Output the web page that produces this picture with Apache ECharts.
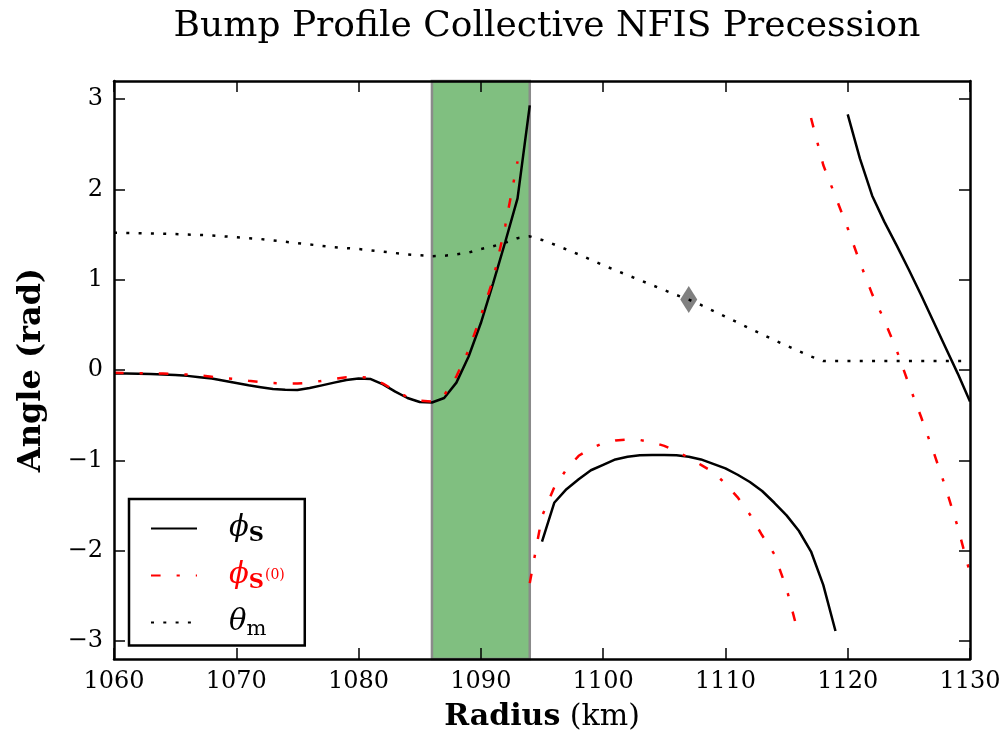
<!DOCTYPE html>
<html>
<head>
<meta charset="utf-8">
<script src="https://cdn.jsdelivr.net/npm/echarts@6/dist/echarts.min.js"></script>
<style>
  html, body { margin: 0; padding: 0; background: #ffffff; }
  #chart { width: 1008px; height: 748px; }
</style>
</head>
<body>
<div id="chart"></div>
<script>
// Radius (km) and angle (rad) samples, one pair of arrays per continuous branch.
const phiS_r1 = [1060,1061,1062,1063,1064,1065,1066,1067,1068,1069,1070,1071,1072,1073,1074,1075,1076,1077,1078,1079,1080,1081,1082,1083,1084,1085,1086,1087,1088,1089,1090,1091,1092,1093,1094];
const phiS_a1 = [-0.04,-0.04,-0.042,-0.045,-0.05,-0.055,-0.065,-0.08,-0.095,-0.12,-0.145,-0.17,-0.19,-0.21,-0.22,-0.222,-0.20,-0.17,-0.14,-0.11,-0.095,-0.10,-0.16,-0.24,-0.31,-0.355,-0.36,-0.31,-0.14,0.15,0.52,0.96,1.42,1.90,2.93];
const phiS_r2 = [1095,1096,1097,1098,1099,1100,1101,1102,1103,1104,1105,1106,1107,1108,1109,1110,1111,1112,1113,1114,1115,1116,1117,1118,1119];
const phiS_a2 = [-1.90,-1.47,-1.32,-1.21,-1.11,-1.05,-0.99,-0.96,-0.945,-0.94,-0.94,-0.945,-0.96,-0.99,-1.04,-1.09,-1.16,-1.24,-1.34,-1.47,-1.61,-1.78,-2.01,-2.38,-2.89];
const phiS_r3 = [1120,1121,1122,1123,1124,1125,1126,1127,1128,1129,1130];
const phiS_a3 = [2.83,2.34,1.93,1.64,1.38,1.11,0.83,0.54,0.25,-0.04,-0.35];

const phiS0_r1 = [1060,1061,1062,1063,1064,1065,1066,1067,1068,1069,1070,1071,1072,1073,1074,1075,1076,1077,1078,1079,1080,1081,1082,1083,1084,1085,1086,1087,1088,1089,1090,1091,1092,1093];
const phiS0_a1 = [-0.03,-0.035,-0.035,-0.04,-0.04,-0.045,-0.05,-0.06,-0.075,-0.09,-0.10,-0.12,-0.135,-0.145,-0.15,-0.15,-0.14,-0.12,-0.10,-0.08,-0.075,-0.09,-0.15,-0.23,-0.30,-0.34,-0.35,-0.28,-0.07,0.22,0.60,1.00,1.60,2.31];
const phiS0_r2 = [1094,1095,1096,1097,1098,1099,1100,1101,1102,1103,1104,1105,1106,1107,1108,1109,1110,1111,1112,1113,1114,1115,1116];
const phiS0_a2 = [-2.36,-1.62,-1.30,-1.10,-0.95,-0.87,-0.81,-0.78,-0.77,-0.775,-0.80,-0.84,-0.90,-0.97,-1.05,-1.13,-1.26,-1.41,-1.60,-1.83,-2.04,-2.42,-2.94];
const phiS0_r3 = [1117,1118,1119,1120,1121,1122,1123,1124,1125,1126,1127,1128,1129,1130];
const phiS0_a3 = [2.79,2.27,1.92,1.57,1.19,0.84,0.55,0.22,-0.16,-0.52,-0.90,-1.30,-1.74,-2.25];

const thetaM_r = [1060,1062,1064,1066,1068,1070,1072,1074,1076,1078,1080,1082,1084,1086,1087,1088,1089,1090,1091,1092,1093,1094,1095,1096,1098,1100,1102,1104,1106,1107,1108,1110,1112,1114,1116,1117,1118,1120,1125,1130];
const thetaM_a = [1.52,1.515,1.51,1.50,1.49,1.47,1.45,1.42,1.39,1.36,1.34,1.31,1.28,1.26,1.265,1.28,1.30,1.34,1.37,1.41,1.46,1.48,1.44,1.39,1.28,1.16,1.05,0.94,0.83,0.78,0.72,0.59,0.46,0.33,0.21,0.15,0.10,0.10,0.10,0.10];

// Marked point on the field-angle curve
const markerPoint = [1107, 0.78];

// Shaded radial band (km)
const bandRange = [1086, 1094];

// Axis ticks
const xTicks = { min: 1060, max: 1130, step: 10 };
const yTickValues = [-3, -2, -1, 0, 1, 2, 3];
const yRange = [-3.2, 3.2];

const FONT = 'DejaVu Serif';

function pairs(xs, ys) { return xs.map((x, i) => [x, ys[i]]); }

const black = '#000000';
const red = '#ff0000';
const dashDot = [9.6, 16, 3.2, 16];
const dotted = [3, 9.3];

function lineSeries(name, xs, ys, color, dash, z) {
  return {
    name: name, type: 'line', data: pairs(xs, ys),
    symbol: 'none', showSymbol: false, smooth: false, animation: false,
    lineStyle: { color: color, width: 2.5, type: dash, cap: 'butt' },
    itemStyle: { color: color },
    z: z || 3, silent: true
  };
}

const chart = echarts.init(document.getElementById('chart'), null, { renderer: 'canvas' });

const legendLabels = {
  phiS: '{ph|ϕ}{sb|S}',
  phiS0: '{phr|ϕ}{sbr|S}{sup|(0)}',
  thetaM: '{ph|θ}{sub|m}'
};

const tickCommon = { inside: true, length: 11, lineStyle: { color: black, width: 1.5 } };
const axisLineCommon = { show: true, onZero: false, lineStyle: { color: black, width: 2.5 } };

chart.setOption({
  backgroundColor: '#ffffff',
  animation: false,
  title: {
    text: 'Bump Profile Collective NFIS Precession',
    left: 542, top: 4, textAlign: 'center',
    textStyle: { fontFamily: FONT, fontSize: 36, fontWeight: 'normal', color: black }
  },
  grid: { left: 114, right: 38, top: 81, bottom: 89, containLabel: false },
  legend: {
    data: ['phiS', 'phiS0', 'thetaM'],
    orient: 'vertical',
    left: 129, top: 499,
    padding: [15, 20, 5, 21],
    itemWidth: 46, itemHeight: 14, itemGap: 14.5,
    backgroundColor: '#ffffff',
    borderColor: black, borderWidth: 2.5, borderRadius: 0,
    selectedMode: false,
    itemStyle: { opacity: 0 },
    formatter: name => legendLabels[name],
    textStyle: {
      fontFamily: FONT, color: black, padding: [0, 0, 0, 27],
      rich: {
        ph: { fontFamily: FONT, fontStyle: 'italic', fontSize: 29, lineHeight: 36, color: black },
        sb: { fontFamily: FONT, fontWeight: 'bold', fontSize: 21, lineHeight: 24, verticalAlign: 'bottom', color: black },
        sub: { fontFamily: FONT, fontSize: 21, lineHeight: 24, verticalAlign: 'bottom', color: black },
        phr: { fontFamily: FONT, fontStyle: 'italic', fontSize: 29, lineHeight: 36, color: red },
        sbr: { fontFamily: FONT, fontWeight: 'bold', fontSize: 21, lineHeight: 24, verticalAlign: 'bottom', color: red },
        sup: { fontFamily: FONT, fontSize: 14, lineHeight: 18, verticalAlign: 'middle', color: red, padding: [0, 0, 0, 1] }
      }
    }
  },
  xAxis: [
    {
      type: 'value', position: 'bottom', min: xTicks.min, max: xTicks.max, interval: xTicks.step, z: 5,
      axisLine: axisLineCommon, axisTick: tickCommon, splitLine: { show: false },
      axisLabel: { fontFamily: FONT, fontSize: 24, color: black, margin: 11, formatter: v => String(v) },
      name: '{b|Radius} (km)', nameLocation: 'middle', nameGap: 43,
      nameTextStyle: { fontFamily: FONT, fontSize: 30, color: black, rich: { b: { fontFamily: FONT, fontSize: 30, fontWeight: 'bold', color: black } } }
    },
    {
      type: 'value', position: 'top', min: xTicks.min, max: xTicks.max, interval: xTicks.step, z: 5,
      axisLine: axisLineCommon, axisTick: tickCommon, splitLine: { show: false }, axisLabel: { show: false }
    }
  ],
  yAxis: [
    {
      type: 'value', position: 'left', min: yRange[0], max: yRange[1], z: 5,
      axisLine: axisLineCommon,
      axisTick: Object.assign({}, tickCommon, { customValues: yTickValues }),
      splitLine: { show: false },
      axisLabel: {
        customValues: yTickValues, fontFamily: FONT, fontSize: 24, color: black, margin: 11,
        formatter: v => (v < 0 ? '\u2212' + Math.abs(v) : String(v))
      },
      name: 'Angle (rad)', nameLocation: 'middle', nameGap: 66,
      nameTextStyle: { fontFamily: FONT, fontSize: 32, fontWeight: 'bold', color: black }
    },
    {
      type: 'value', position: 'right', min: yRange[0], max: yRange[1], z: 5,
      axisLine: axisLineCommon,
      axisTick: Object.assign({}, tickCommon, { customValues: yTickValues }),
      splitLine: { show: false }, axisLabel: { show: false }
    }
  ],
  series: [
    {
      name: 'band', type: 'line', data: [], z: 1, silent: true,
      markArea: {
        silent: true,
        itemStyle: { color: '#80bf80', borderColor: '#8a8a8a', borderWidth: 2.5 },
        data: [[{ xAxis: bandRange[0] }, { xAxis: bandRange[1] }]]
      }
    },
    lineSeries('phiS', phiS_r1, phiS_a1, black, 'solid'),
    lineSeries('phiS', phiS_r2, phiS_a2, black, 'solid'),
    lineSeries('phiS', phiS_r3, phiS_a3, black, 'solid'),
    lineSeries('phiS0', phiS0_r1, phiS0_a1, red, dashDot),
    lineSeries('phiS0', phiS0_r2, phiS0_a2, red, dashDot),
    lineSeries('phiS0', phiS0_r3, phiS0_a3, red, dashDot),
    {
      name: 'marker', type: 'scatter', data: [markerPoint], z: 3, silent: true,
      symbol: 'diamond', symbolSize: [17, 27],
      itemStyle: { color: '#808080', opacity: 1 }
    },
    lineSeries('thetaM', thetaM_r, thetaM_a, black, dotted, 4)
  ]
});
</script>
</body>
</html>
